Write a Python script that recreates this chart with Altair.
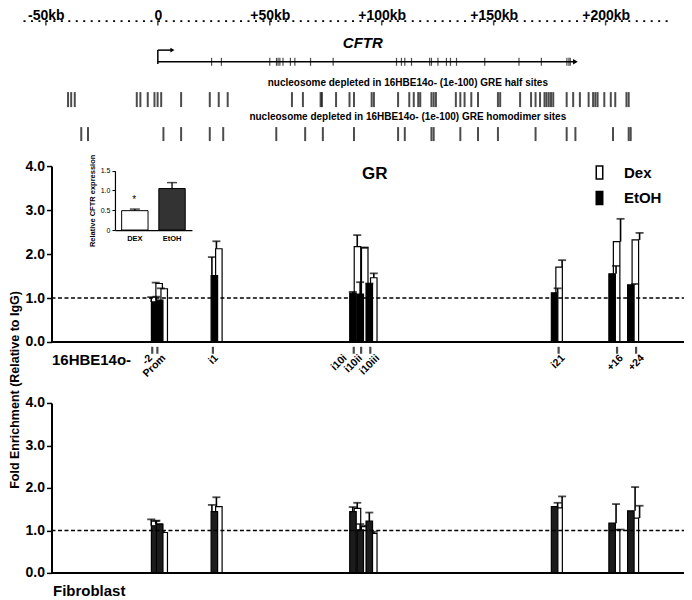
import altair as alt
import pandas as pd

# ---------------- data (genomic positions in kb relative to the CFTR TSS) ----------------
ruler_ticks_kb = [-50, 0, 50, 100, 150, 200]
ruler_extent_kb = [-60, 229]
gene_span_kb = [0, 186.5]
exon_kb = [24.0, 28.4, 50.0, 53.0, 53.7, 54.5, 55.9, 59.2, 61.2, 68.2, 78.3, 106.6, 108.8,
           110.3, 113.3, 121.4, 122.2, 125.1, 128.9, 130.7, 133.4, 146.0, 161.3, 171.3,
           182.7, 183.6, 184.2]
half_sites_kb = [-40.1, -38.7, -37.1, -9.4, -7.8, -4.5, -1.5, -0.1, 1.5, 10.4, 23.2, 27.2, 31.2,
                 59.9, 64.8, 72.7, 73.3, 79.6, 85.6, 87.6, 95.5, 96.5, 107.3, 112.3, 114.3,
                 116.3, 117.2, 122.2, 123.2, 124.2, 133.1, 135.1, 137.0, 140.0, 143.0, 151.9,
                 152.9, 161.8, 166.7, 168.7, 170.7, 172.7, 173.6, 174.6, 175.6, 176.6, 182.6,
                 185.5, 188.5, 192.4, 194.4, 195.4, 196.4, 199.4, 202.3, 204.3, 209.3, 210.3]
homodimer_sites_kb = [-34.2, -31.2, 2.5, 10.4, 23.2, 29.2, 52.9, 65.8, 73.7, 87.6, 107.3, 110.3,
                      122.2, 123.2, 135.1, 143.0, 151.9, 168.7, 182.6, 186.5, 203.3, 210.3, 211.2]

site_names = ["-2", "Prom", "i1", "i10i", "i10ii", "i10iii", "i21", "+16", "+24"]
site_kb = [-2.5, -0.2, 24.6, 87.5, 90.8, 94.9, 179.0, 205.1, 213.6]

gr_etoh = [0.91, 0.95, 1.51, 1.11, 1.09, 1.32, 1.12, 1.55, 1.30]
gr_etoh_err = [1.02, 1.03, 1.93, 1.14, 1.36, 1.33, 1.22, 1.73, 1.32]
gr_dex = [1.33, 1.21, 2.12, 2.17, 2.14, 1.46, 1.70, 2.28, 2.32]
gr_dex_err = [1.35, 1.22, 2.29, 2.43, 2.15, 1.56, 1.86, 2.80, 2.48]

fib_etoh = [1.11, 1.15, 1.44, 1.44, 1.01, 1.22, 1.56, 1.17, 1.46]
fib_etoh_err = [1.26, 1.23, 1.60, 1.55, 1.15, 1.42, 1.65, 1.62, 2.02]
fib_dex = [1.15, 0.95, 1.56, 1.52, 1.09, 0.93, 1.53, 1.01, 1.29]
fib_dex_err = [1.22, 0.97, 1.78, 1.65, 1.11, 0.97, 1.80, 1.02, 1.58]

inset_groups = ["DEX", "EtOH"]
inset_values = [0.49, 1.05]
inset_err = [0.53, 1.20]
inset_marks = ["*", ""]

treatments = ["Dex", "EtOH"]

# ---------------- layout / style ----------------
W, H = 632.8, 579
PAD = {"left": 43.5, "top": 13, "right": 0, "bottom": 0}
KB_DOMAIN = [-47.5, 235]
PX_PER_KB = W / (KB_DOMAIN[1] - KB_DOMAIN[0])
FONT = "Liberation Sans"
BAR_W = 6.5
OFFSETS = {"Dex": 3.5, "EtOH": -1.0}
TSS_ARROW_KB = 6.5
LABEL_NUDGE = {"-2": -5, "Prom": 3, "i1": 0, "i10i": -12, "i10ii": -4, "i10iii": 4,
               "i21": 1, "+16": 1, "+24": 3}

xscale = alt.Scale(domain=KB_DOMAIN, nice=False, zero=False)
# same kb->pixel mapping, but with a domain that reaches the ruler's ends
ruler_scale = alt.Scale(domain=ruler_extent_kb, nice=False, zero=False,
                        range=[(v - KB_DOMAIN[0]) * PX_PER_KB for v in ruler_extent_kb])


def X(field):
    return alt.X(f"{field}:Q", scale=xscale, axis=None, title=None)


one = alt.Data(values=[{}])


def note(text, x, y, **kw):
    return alt.Chart(pd.DataFrame({"t": [text]})).mark_text(font=FONT, color="black", **kw).encode(
        x=alt.value(x), y=alt.value(y), text="t:N")


# ---------------- tables ----------------
ruler_df = pd.DataFrame({"start": [ruler_extent_kb[0]], "end": [ruler_extent_kb[1]]})
ruler_ticks_df = pd.DataFrame({"kb": ruler_ticks_kb})
gene_df = pd.DataFrame({"start": [gene_span_kb[0]], "end": [gene_span_kb[1]]})
exon_df = pd.DataFrame({"kb": exon_kb})
half_df = pd.DataFrame({"kb": half_sites_kb})
homo_df = pd.DataFrame({"kb": homodimer_sites_kb})
sites_df = pd.DataFrame({"site": site_names, "kb": site_kb})


def long_table(etoh, etoh_err, dex, dex_err):
    rows = []
    for i, s in enumerate(site_names):
        rows.append(dict(site=s, kb=site_kb[i], treat="EtOH", value=etoh[i], err=etoh_err[i]))
        rows.append(dict(site=s, kb=site_kb[i], treat="Dex", value=dex[i], err=dex_err[i]))
    return pd.DataFrame(rows)


gr_df = long_table(gr_etoh, gr_etoh_err, gr_dex, gr_dex_err)
fib_df = long_table(fib_etoh, fib_etoh_err, fib_dex, fib_dex_err)
inset_df = pd.DataFrame({"group": inset_groups, "value": inset_values, "err": inset_err,
                         "mark": inset_marks})

# ---------------- genome tracks ----------------
ruler = alt.Chart(ruler_df).mark_rule(strokeDash=[2, 5.47], strokeWidth=1.6, color="black").encode(
    x=alt.X("start:Q", scale=ruler_scale, title=None,
            axis=alt.Axis(orient="top", values=ruler_ticks_kb,
                          labelExpr="datum.value == 0 ? '0' : (datum.value > 0 ? '+' : '') + datum.value + 'kb'",
                          ticks=False, tickSize=0, domain=False, grid=False,
                          labelFontSize=14, labelFontWeight="bold", labelPadding=2,
                          labelBaseline="alphabetic", labelFlush=False, labelOverlap=False)),
    x2="end:Q", y=alt.value(0))
ruler_ticks = alt.Chart(ruler_ticks_df).mark_tick(size=5, thickness=1.6, color="black").encode(
    x=alt.X("kb:Q", scale=ruler_scale, axis=None), y=alt.value(1.8))

tss_v = alt.Chart(gene_df).mark_rule(strokeWidth=1.5, color="black").encode(
    x=X("start"), y=alt.value(29), y2=alt.value(43))
tss_h = alt.Chart(gene_df).transform_calculate(arrow_end=f"datum.start + {TSS_ARROW_KB}").mark_rule(
    strokeWidth=1.5, color="black").encode(x=X("start"), x2="arrow_end:Q", y=alt.value(29))
tss_head = alt.Chart(gene_df).transform_calculate(arrow_end=f"datum.start + {TSS_ARROW_KB}").mark_point(
    shape="triangle-right", filled=True, size=22, color="black", opacity=1).encode(
    x=X("arrow_end"), y=alt.value(29))
gene_line = alt.Chart(gene_df).mark_rule(strokeWidth=1.5, color="black").encode(
    x=X("start"), x2="end:Q", y=alt.value(40.7))
gene_head = alt.Chart(gene_df).mark_point(shape="triangle-right", filled=True, size=30,
                                          color="black", opacity=1).encode(
    x=X("end"), y=alt.value(40.7))
exons = alt.Chart(exon_df).mark_tick(size=8, thickness=1.2, color="black").encode(
    x=X("kb"), y=alt.value(40.7))

half_ticks = alt.Chart(half_df).mark_tick(size=15, thickness=2, color="black").encode(
    x=X("kb"), y=alt.value(78.5))
homo_ticks = alt.Chart(homo_df).mark_tick(size=14, thickness=2, color="black").encode(
    x=X("kb"), y=alt.value(113))

texts = [
    note("CFTR", 311.5, 22, fontSize=15, fontWeight="bold", fontStyle="italic"),
    note("nucleosome depleted in 16HBE14o- (1e-100) GRE half sites", 356.5, 62,
         fontSize=10, fontWeight="bold"),
    note("nucleosome depleted in 16HBE14o- (1e-100) GRE homodimer sites", 356.5, 96,
         fontSize=10, fontWeight="bold"),
    note("GR", 323.5, 153, fontSize=17, fontWeight="bold"),
    note("16HBE14o-", 0.5, 339, fontSize=15, fontWeight="bold", align="left"),
    note("Fibroblast", 1.5, 570.5, fontSize=15, fontWeight="bold", align="left"),
    note("Fold Enrichment (Relative to IgG)", -36, 369, fontSize=12.5, fontWeight="bold", angle=270),
]

site_ticks = alt.Chart(sites_df).mark_tick(size=7, thickness=2.2, color="black").encode(
    x=X("kb"), y=alt.value(329.3))
site_labels = [
    alt.Chart(sites_df).transform_filter(alt.datum.site == s).mark_text(
        angle=315, align="right", baseline="top", font=FONT, fontSize=10.5, fontWeight="bold",
        color="black", xOffset=LABEL_NUDGE[s]).encode(x=X("kb"), y=alt.value(332), text="site:N")
    for s in site_names
]

# ---------------- bar panels ----------------
treat_scale = alt.Scale(domain=treatments, range=["white", "black"])
legend = alt.Legend(orient="none", legendX=540.75, legendY=144, title=None,
                    symbolType="M-0.5,-1H0.5V1H-0.5Z", symbolSize=169,
                    symbolStrokeColor="black", symbolStrokeWidth=1.5, symbolOpacity=1,
                    labelFont=FONT, labelFontSize=15, labelFontWeight="bold", labelColor="black",
                    labelOffset=17, rowPadding=6.5, padding=0)


def panel(df, yrange, with_legend, etoh_fill):
    yscale = alt.Scale(domain=[0, 4], range=yrange, nice=False)
    yaxis = alt.Axis(orient="left", values=[0, 1, 2, 3, 4], format=".1f",
                     labelFontSize=14, labelFontWeight="bold", labelPadding=2,
                     tickSize=5, tickWidth=1.5, domainWidth=2, grid=False, title=None)
    layers = []
    first = True
    for treat in treatments:
        off = OFFSETS[treat]
        base = alt.Chart(df).transform_filter(alt.datum.treat == treat)
        if with_legend:
            fill = alt.Fill("treat:N", scale=treat_scale, legend=legend)
        else:
            fill = alt.value("white" if treat == "Dex" else etoh_fill)
        bar = base.mark_bar(size=BAR_W, xOffset=off, stroke="black", strokeWidth=1.2,
                            orient="vertical").encode(
            x=X("kb"),
            y=alt.Y("value:Q", scale=yscale, axis=yaxis if first else None, title=None),
            fill=fill)
        first = False
        err = base.mark_rule(xOffset=off, strokeWidth=1.6, color="black").encode(
            x=X("kb"), y=alt.Y("value:Q", scale=yscale, axis=None), y2="err:Q")
        cap = base.mark_tick(orient="horizontal", size=8, thickness=1.8, xOffset=off,
                             color="black").encode(
            x=X("kb"), y=alt.Y("err:Q", scale=yscale, axis=None))
        layers += [bar, err, cap]
    baseline = alt.Chart(one).mark_rule(strokeWidth=2, color="black").encode(
        x=alt.value(0), x2=alt.value(W), y=alt.Y(datum=0, scale=yscale, axis=None))
    ref = alt.Chart(one).mark_rule(strokeWidth=1.5, strokeDash=[4, 2.5], color="black").encode(
        x=alt.value(0), x2=alt.value(W), y=alt.Y(datum=1, scale=yscale, axis=None))
    return layers + [ref, baseline]


gr_layers = panel(gr_df, [321, 145], True, "black")
fib_layers = panel(fib_df, [552, 382], False, "#1c1c1c")

# ---------------- inset: relative CFTR expression ----------------
INSET_Y0 = 209
ix_scale = alt.Scale(domain=inset_groups, range=[63.5, 140.5], paddingInner=0.29, paddingOuter=0.18)
iy_scale = alt.Scale(domain=[0, 1.5], range=[INSET_Y0, 149.7], nice=False)
ix_axis = alt.Axis(orient="bottom", offset=-(H - INSET_Y0), labelAngle=0, ticks=False, tickSize=0,
                   labelFontSize=7.5, labelFontWeight="bold", domainWidth=1.2, labelPadding=4,
                   title=None)
iy_axis = alt.Axis(orient="left", offset=-63.5, values=[0, 0.5, 1, 1.5],
                   labelExpr="datum.value == 0 ? '0' : format(datum.value, '.1f')",
                   labelFontSize=7, tickSize=3, tickWidth=1, domainWidth=1.2, grid=False,
                   title="Relative CFTR expression", titleFontSize=7.5, titleFontWeight="bold",
                   titlePadding=4)
ibase = alt.Chart(inset_df)
inset_bars = ibase.mark_bar(stroke="black", strokeWidth=1).encode(
    x=alt.X("group:N", scale=ix_scale, axis=ix_axis, title=None),
    y=alt.Y("value:Q", scale=iy_scale, axis=iy_axis),
    fill=alt.condition(alt.datum.group == "DEX", alt.value("white"), alt.value("#333333")))
inset_err = ibase.mark_rule(strokeWidth=1.3, color="black").encode(
    x=alt.X("group:N", scale=ix_scale, axis=None), y=alt.Y("value:Q", scale=iy_scale, axis=None),
    y2="err:Q")
inset_cap = ibase.mark_tick(orient="horizontal", size=10, thickness=1.5, color="black").encode(
    x=alt.X("group:N", scale=ix_scale, axis=None), y=alt.Y("err:Q", scale=iy_scale, axis=None))
inset_star = ibase.mark_text(font=FONT, fontSize=10, color="black", dy=-9).encode(
    x=alt.X("group:N", scale=ix_scale, axis=None), y=alt.Y("err:Q", scale=iy_scale, axis=None),
    text="mark:N")

chart = alt.layer(
    ruler, ruler_ticks, tss_v, tss_h, tss_head, gene_line, gene_head, exons,
    half_ticks, homo_ticks, site_ticks, *site_labels, *texts,
    *gr_layers, *fib_layers,
    inset_bars, inset_err, inset_cap, inset_star,
).resolve_scale(x="independent", y="independent").properties(
    width=W, height=H,
    autosize=alt.AutoSizeParams(type="none"),
    padding=PAD,
).configure(font=FONT).configure_view(strokeWidth=0, stroke="transparent").configure_axis(
    domainColor="black", tickColor="black", labelColor="black", titleColor="black",
    labelFont=FONT, titleFont=FONT, grid=False
)

chart.save("out.html", embed_options={"renderer": "svg", "actions": False})
